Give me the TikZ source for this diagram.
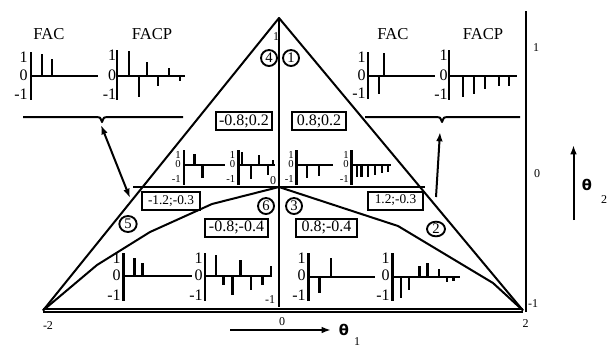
\documentclass[tikz,border=0pt]{standalone}
\usepackage{fontspec}
\setmainfont{Liberation Serif}
\newfontfamily\thetafont{DejaVu Sans}
\usetikzlibrary{shapes.geometric,arrows.meta}
\newcommand\acfplot[8]{%
  \draw[axisbar] (#2,#4) -- (#2,#5);
  \draw[zeroline] (#2,#3) -- (#6,#3);
  \foreach \bx/\by in {#8} {\draw[barline] (\bx,#3) -- (\bx,\by);}
  \node[chlbl,anchor=east] (#1p) at (#7,#4+5) {1};
  \node[chlbl,anchor=east] (#1z) at (#7,#3-1) {0};
  \node[chlbl,anchor=east] (#1m) at (#7,#5-6) {-1};
}
\begin{document}
\begin{tikzpicture}[x=0.75pt,y=-0.75pt,
  edge/.style={line width=1.5pt, line join=round},
  axisbar/.style={line width=2.2pt},
  zeroline/.style={line width=1.5pt},
  barline/.style={line width=1.8pt},
  chlbl/.style={font=\fontsize{12}{12}\selectfont, inner sep=0pt},
  ttl/.style={font=\fontsize{12.5}{14}\selectfont, inner sep=0pt},
  axl/.style={font=\fontsize{9}{9}\selectfont, inner sep=0pt},
  valbox/.style={draw, line width=1.5pt, inner sep=0pt, minimum height=13.5pt},
  bigv/.style={font=\fontsize{12}{12}\selectfont},
  smallv/.style={font=\fontsize{10}{10}\selectfont},
  numc/.style={draw, ellipse, line width=1.4pt, inner sep=0pt, minimum width=12pt, minimum height=12pt, font=\fontsize{11}{11}\selectfont},
  thsym/.style={inner sep=0pt, font=\thetafont\bfseries\fontsize{11}{11}\selectfont},
  arr/.style={line width=1.5pt, -{Latex[length=7pt,width=5pt]}},
  darr/.style={line width=1.5pt, {Latex[length=7pt,width=5pt]}-{Latex[length=7pt,width=5pt]}}
]
\useasboundingbox (0,0) rectangle (616,354);

% main triangle
\coordinate (apex) at (279,18);
\coordinate (lv) at (43,310.5);
\coordinate (rv) at (523,310.5);
\coordinate (ctr) at (279,187);
\draw[edge] (lv) -- (apex) -- (rv);
\draw[line width=1.4pt, double, double distance=0.9pt] (lv) -- (rv);
\draw[edge] (apex) -- (279,307);
\draw[edge] (133,187) -- (425,187);
\draw[edge] (ctr) -- (212,204) -- (150,232) -- (97,265) -- (lv);
\draw[edge] (ctr) -- (398,226) -- (493,283) -- (rv);

% right axis
\draw[line width=1.9pt] (526,11) -- (526,311.5);
\node[axl] (ry1) at (536,48) {1};
\node[axl] (ry0) at (537,174) {0};
\node[axl] (rym) at (533,304) {-1};

% bottom axis labels
\node[axl] (bxm) at (48,325.5) {-2};
\node[axl] (bx0) at (282,321.5) {0};
\node[axl] (bx2) at (525.5,324) {2};

% centre axis labels
\node[axl] (cy1) at (276,37) {1};
\node[axl] (cy0) at (273,181) {0};
\node[axl] (cym) at (270,300) {-1};

% theta arrows
\node[thsym] (th1) at (344,330) {θ};
\node[axl] (th1s) at (357,342) {1};
\coordinate (t1a) at (230,330);
\coordinate (t1b) at (331,330);
\draw[arr] (t1a) -- (t1b);
\node[thsym] (th2) at (587,185) {θ};
\node[axl] (th2s) at (604,200) {2};
\coordinate (t2a) at (573.5,220);
\coordinate (t2b) at (573.5,145);
\draw[arr] (t2a) -- (t2b);

% titles
\node[ttl] (tfac1) at (49,34) {FAC};
\node[ttl] (tfacp1) at (152,34) {FACP};
\node[ttl] (tfac2) at (393,34) {FAC};
\node[ttl] (tfacp2) at (483,34) {FACP};

% braces
\coordinate (lnotch) at (102,122);
\coordinate (rnotch) at (442,122);
\draw[edge] (23,117) -- (97,117) .. controls (100,117) .. (lnotch) .. controls (104,117) .. (107,117) -- (183,117);
\draw[edge] (365,117) -- (437,117) .. controls (440,117) .. (rnotch) .. controls (444,117) .. (447,117) -- (520,117);

% connecting arrows
\coordinate (la1) at (101,125);
\coordinate (la2) at (130,198);
\draw[darr] (la1) -- (la2);
\coordinate (ra1) at (436,197);
\coordinate (ra2) at (440,132);
\draw[arr] (ra1) -- (ra2);

% top charts
\acfplot{tla}{31}{76}{52}{100}{98}{28}{41.7/54, 52/59}
\acfplot{tlb}{117}{76}{50}{100}{185}{116.5}{129/51, 139/97, 147/62, 158/86, 169/68, 180/81}
\acfplot{tra}{368}{76}{52}{99}{435}{366}{379/94, 384/53}
\acfplot{trb}{449}{76}{50}{100}{517}{448}{463/97, 474/94, 485/89, 499/86, 509/86}

% middle charts
\tikzset{chlbl/.style={font=\fontsize{8}{8}\selectfont, inner sep=0pt}}
\acfplot{ma}{184}{165}{150}{185}{225}{181}{194.3/154, 202.3/178}
\acfplot{mb}{238.3}{165}{150}{185}{275}{235.5}{242/152, 250.7/179, 259/155, 268/175, 273/160}
\acfplot{mc}{296.7}{165}{150}{185}{333}{294}{306.7/178, 319/176}
\acfplot{md}{351.7}{165}{150}{185}{390.7}{349}{356.7/177.3, 361.5/177, 368/176.7, 375/175, 381.7/173, 388/172}

% bottom charts
\tikzset{chlbl/.style={font=\fontsize{12}{12}\selectfont, inner sep=0pt}}
\acfplot{ba}{123.3}{276}{253}{301}{191.7}{121}{134.3/258.3, 142.5/263.3}
\acfplot{bb}{205}{276}{253}{301}{271.7}{203}{215.7/255, 223.3/285, 232.3/295, 240.5/260, 251/290, 262.3/285, 270.7/266}
\acfplot{bc}{308.3}{276.7}{253}{301}{375}{306}{319.3/292.7, 330.7/258.3}
\acfplot{bd}{392.3}{276.7}{253}{301}{460}{390}{400.7/298, 409/290, 419.3/266, 427.3/263.3, 439/269.3, 446.7/281.7, 453.3/281}

% value boxes
\node[valbox, bigv, minimum width=42pt] (v1) at (244,121) {-0.8;0.2};
\node[valbox, bigv, minimum width=41pt] (v2) at (319,121) {0.8;0.2};
\node[valbox, smallv, minimum width=43.5pt] (v3) at (171,201) {-1.2;-0.3};
\node[valbox, bigv, minimum width=47pt] (v4) at (236.5,227.5) {-0.8;-0.4};
\node[valbox, bigv, minimum width=45.5pt] (v5) at (326.5,227.5) {0.8;-0.4};
\node[valbox, smallv, minimum width=41pt] (v6) at (395.5,200.5) {1.2;-0.3};

% numbered circles
\node[numc] (n4) at (269,58) {4};
\node[numc] (n1) at (291,58) {1};
\node[numc] (n6) at (266,206) {6};
\node[numc] (n3) at (294,206) {3};
\node[numc, minimum width=13pt] (n5) at (128,224) {5};
\node[numc, minimum width=13.5pt, minimum height=11pt] (n2) at (436,229) {2};
\end{tikzpicture}
\end{document}
